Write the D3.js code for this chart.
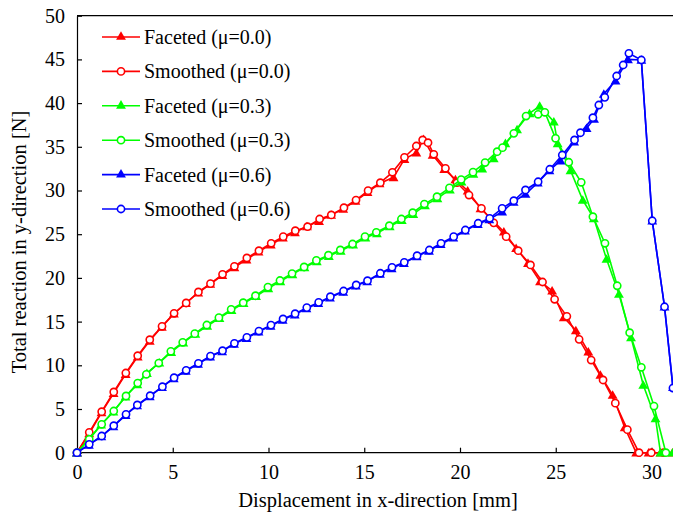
<!DOCTYPE html>
<html>
<head>
<meta charset="utf-8">
<script src="https://cdn.jsdelivr.net/npm/d3@7"></script>
<style>
  body { margin: 0; background: #fff; }
  svg { display: block; font-family: "Liberation Serif", "DejaVu Serif", serif; }
  .axis path, .axis line { stroke: #000; stroke-width: 1.2px; }
  .axis text { font-size: 20px; fill: #000; font-family: "Liberation Serif", serif; }
  .title { font-size: 20.5px; fill: #000; }
  .legend text { font-size: 20px; fill: #000; }
</style>
</head>
<body>
<svg id="chart" width="673" height="516"></svg>
<script>
// data: displacement [mm] and reaction [N]
const xTicks = [0, 5, 10, 15, 20, 25, 30];
const yTicks = [0, 5, 10, 15, 20, 25, 30, 35, 40, 45, 50];

const facetedX00 = [0, 0.64, 1.28, 1.91, 2.54, 3.17, 3.8, 4.43, 5.06, 5.69, 6.33, 6.96, 7.59, 8.22, 8.85, 9.48, 10.12, 10.75, 11.38, 12.01, 12.64, 13.27, 13.9, 14.54, 15.17, 15.8, 16.53, 17.1, 17.72, 18.1, 18.57, 19.18, 19.76, 20.4, 21.07, 21.7, 22.29, 22.93, 23.55, 24.18, 24.81, 25.42, 26.05, 26.7, 27.33, 27.97, 28.6, 29.2, 29.85, 30.47, 31.1];
const facetedY00 = [0, 2.2, 4.6, 6.8, 9.0, 11.0, 12.8, 14.4, 15.9, 17.1, 18.3, 19.3, 20.3, 21.2, 22.1, 23.0, 23.8, 24.6, 25.2, 25.9, 26.5, 27.2, 27.9, 28.8, 29.8, 30.8, 31.51, 33.6, 34.33, 35.86, 34.06, 32.43, 31.28, 29.98, 27.96, 26.6, 25.29, 23.4, 21.7, 19.6, 18.54, 15.49, 14.0, 11.56, 8.9, 6.6, 2.9, 0, 0, 0, 0];

const smoothedX00 = [0, 0.64, 1.29, 1.92, 2.55, 3.17, 3.8, 4.44, 5.07, 5.7, 6.34, 6.97, 7.6, 8.22, 8.87, 9.5, 10.14, 10.77, 11.4, 12.04, 12.67, 13.28, 13.94, 14.57, 15.2, 15.84, 16.47, 17.1, 17.72, 18.05, 18.33, 18.63, 19.24, 19.84, 20.47, 21.12, 21.76, 22.41, 23.04, 23.68, 24.31, 24.94, 25.58, 26.22, 26.85, 27.47, 28.11, 28.74, 29.35, 29.99, 30.63, 31.27];
const smoothedY00 = [0, 2.33, 4.69, 6.95, 9.12, 11.1, 12.93, 14.46, 15.95, 17.13, 18.39, 19.34, 20.41, 21.33, 22.28, 23.11, 23.96, 24.72, 25.4, 25.86, 26.74, 27.2, 28.03, 28.91, 29.98, 30.89, 32.08, 33.8, 35.09, 35.78, 35.47, 34.14, 32.54, 30.89, 29.48, 27.96, 26.3, 24.72, 23.11, 21.48, 19.53, 17.55, 15.6, 12.97, 10.6, 8.32, 5.67, 2.64, 0, 0, 0, 0];

const facetedX03 = [0, 0.62, 1.26, 1.9, 2.53, 3.15, 3.65, 4.3, 4.92, 5.55, 6.18, 6.8, 7.44, 8.07, 8.7, 9.35, 9.99, 10.62, 11.25, 11.88, 12.52, 13.15, 13.77, 14.42, 15.06, 15.66, 16.33, 16.96, 17.56, 18.17, 18.82, 19.47, 20.08, 20.7, 21.16, 21.76, 22.37, 22.98, 23.63, 24.16, 24.9, 25.1, 25.77, 26.41, 26.99, 27.65, 28.3, 28.93, 29.57, 30.21, 30.47, 31.1];
const facetedY03 = [0, 1.6, 3.2, 4.7, 6.4, 7.8, 9.1, 10.3, 11.5, 12.6, 13.6, 14.5, 15.4, 16.3, 17.1, 17.9, 18.8, 19.6, 20.4, 21.2, 21.9, 22.5, 23.1, 23.8, 24.6, 25.1, 25.9, 26.6, 27.3, 28.3, 29.1, 30.1, 31.0, 31.9, 32.5, 33.68, 35.4, 37.0, 38.83, 39.67, 37.87, 35.4, 32.3, 28.91, 26.82, 22.16, 18.16, 13.2, 7.75, 3.93, 0, 0];

const smoothedX03 = [0, 0.64, 1.29, 1.92, 2.56, 3.17, 3.62, 4.27, 4.9, 5.52, 6.15, 6.78, 7.41, 8.05, 8.68, 9.32, 9.97, 10.6, 11.23, 11.86, 12.5, 13.13, 13.75, 14.39, 15.04, 15.63, 16.31, 16.94, 17.53, 18.14, 18.8, 19.45, 20.06, 20.68, 21.31, 21.94, 22.22, 22.81, 23.45, 24.08, 24.43, 24.99, 25.68, 26.33, 26.94, 27.57, 28.21, 28.86, 29.47, 30.13, 30.75, 31.4];
const smoothedY03 = [0, 1.53, 3.25, 4.77, 6.49, 7.97, 8.97, 10.26, 11.6, 12.63, 13.62, 14.61, 15.45, 16.4, 17.16, 17.96, 18.95, 19.7, 20.5, 21.25, 22.0, 22.6, 23.2, 23.88, 24.72, 25.22, 25.97, 26.74, 27.46, 28.45, 29.29, 30.3, 31.25, 32.1, 33.2, 34.44, 34.9, 36.54, 38.52, 38.72, 38.95, 35.97, 33.23, 30.94, 27.0, 23.96, 19.1, 13.73, 9.77, 5.34, 0, 0];

const facetedX06 = [0, 0.62, 1.27, 1.9, 2.54, 3.14, 3.8, 4.44, 5.05, 5.68, 6.32, 6.95, 7.58, 8.2, 8.85, 9.48, 10.11, 10.74, 11.37, 11.98, 12.6, 13.21, 13.9, 14.56, 15.15, 15.82, 16.43, 17.07, 17.74, 18.38, 18.99, 19.65, 20.26, 20.93, 21.53, 22.2, 22.8, 23.42, 24.06, 24.67, 25.25, 25.96, 26.61, 27.0, 27.51, 28.12, 28.77, 29.47, 30.04, 30.68, 31.12, 31.7];
const facetedY06 = [0, 0.9, 1.85, 3.0, 4.3, 5.4, 6.45, 7.5, 8.5, 9.35, 10.15, 11.0, 11.6, 12.45, 13.1, 13.85, 14.5, 15.2, 15.8, 16.5, 17.1, 17.75, 18.4, 19.1, 19.6, 20.45, 21.1, 21.7, 22.45, 23.1, 23.85, 24.6, 25.4, 26.15, 26.7, 27.57, 28.7, 29.6, 30.9, 32.3, 33.41, 35.6, 37.12, 38.2, 41.04, 42.56, 45.0, 44.93, 26.54, 16.7, 7.5, 0];

const smoothedX06 = [0, 0.64, 1.29, 1.92, 2.56, 3.15, 3.82, 4.46, 5.07, 5.7, 6.34, 6.97, 7.6, 8.22, 8.87, 9.5, 10.13, 10.76, 11.39, 12.0, 12.62, 13.23, 13.92, 14.58, 15.17, 15.84, 16.45, 17.09, 17.76, 18.4, 19.01, 19.67, 20.28, 20.95, 21.55, 22.2, 22.81, 23.42, 24.08, 24.69, 25.34, 25.98, 26.29, 26.94, 27.25, 27.56, 28.18, 28.52, 28.82, 29.47, 30.04, 30.68, 31.12, 31.7];
const smoothedY06 = [0, 0.96, 1.91, 3.09, 4.39, 5.46, 6.52, 7.55, 8.58, 9.43, 10.23, 11.06, 11.67, 12.52, 13.2, 13.92, 14.6, 15.3, 15.9, 16.6, 17.2, 17.85, 18.5, 19.19, 19.68, 20.53, 21.21, 21.78, 22.54, 23.19, 23.96, 24.72, 25.48, 26.25, 26.82, 27.96, 28.83, 30.06, 31.0, 32.43, 34.06, 35.78, 36.61, 38.33, 39.78, 40.66, 43.1, 44.36, 45.7, 44.93, 26.54, 16.7, 7.4, 0];

const seriesNames = ["Faceted (\u03bc=0.0)", "Smoothed (\u03bc=0.0)", "Faceted (\u03bc=0.3)",
                     "Smoothed (\u03bc=0.3)", "Faceted (\u03bc=0.6)", "Smoothed (\u03bc=0.6)"];
const seriesColors = ["#ff0000", "#ff0000", "#00ff00", "#00ff00", "#0000ff", "#0000ff"];
const seriesMarkers = ["triangle", "circle", "triangle", "circle", "triangle", "circle"];
const seriesX = [facetedX00, smoothedX00, facetedX03, smoothedX03, facetedX06, smoothedX06];
const seriesY = [facetedY00, smoothedY00, facetedY03, smoothedY03, facetedY06, smoothedY06];

const svg = d3.select('#chart');
const W = 673, H = 516;

// the plot runs past the right edge of the picture, as in the figure
const x = d3.scaleLinear().domain([0, 35]).range([77, 77 + 35 * 19.15]);
const y = d3.scaleLinear().domain([0, 50]).range([452.7, 15.7]);

// frame: top line
svg.append('line')
  .attr('x1', x(0)).attr('x2', W + 10)
  .attr('y1', y(50)).attr('y2', y(50))
  .attr('stroke', '#000').attr('stroke-width', 1.2);

const xAxis = svg.append('g')
  .attr('class', 'axis')
  .attr('transform', `translate(0,${y(0)})`)
  .call(d3.axisBottom(x).tickValues(xTicks).tickSizeInner(-5).tickSizeOuter(0).tickPadding(12));
xAxis.select('.domain').attr('d', `M${x(0)},0H${W + 10}`);
xAxis.selectAll('text').attr('dy', '0.71em');

svg.append('g')
  .attr('class', 'axis')
  .attr('transform', `translate(${x(0)},0)`)
  .call(d3.axisLeft(y).tickValues(yTicks).tickSizeInner(-5).tickSizeOuter(0).tickPadding(12));

svg.append('text')
  .attr('class', 'title')
  .attr('x', 378).attr('y', 507)
  .attr('text-anchor', 'middle')
  .text('Displacement in x-direction [mm]');

svg.append('text')
  .attr('class', 'title')
  .attr('transform', 'translate(26,242) rotate(-90)')
  .attr('text-anchor', 'middle')
  .text('Total reaction in y-direction [N]');

const line = d3.line().x(d => x(d[0])).y(d => y(d[1]));
const tri = d3.symbol().type(d3.symbolTriangle).size(42);

function drawMarkers(g, pts, kind, color) {
  if (kind === 'circle') {
    g.selectAll('circle').data(pts).join('circle')
      .attr('cx', d => x(d[0])).attr('cy', d => y(d[1])).attr('r', 3.6)
      .attr('fill', '#fff').attr('stroke', color).attr('stroke-width', 1.6);
  } else {
    g.selectAll('path.mk').data(pts).join('path')
      .attr('class', 'mk')
      .attr('d', tri)
      .attr('transform', d => `translate(${x(d[0])},${y(d[1]) + 1})`)
      .attr('fill', color);
  }
}

const dataG = svg.append('g').attr('class', 'data');
seriesNames.forEach((name, i) => {
  const pts = seriesX[i].map((v, j) => [v, seriesY[i][j]]);
  const g = dataG.append('g');
  g.append('path')
    .attr('d', line(pts))
    .attr('fill', 'none')
    .attr('stroke', seriesColors[i])
    .attr('stroke-width', 1.6);
  drawMarkers(g, pts, seriesMarkers[i], seriesColors[i]);
});

// legend
const legend = svg.append('g').attr('class', 'legend');
seriesNames.forEach((name, i) => {
  const ly = 37 + i * 34.4;
  const g = legend.append('g');
  g.append('line')
    .attr('x1', 102).attr('x2', 140).attr('y1', ly).attr('y2', ly)
    .attr('stroke', seriesColors[i]).attr('stroke-width', 1.6);
  if (seriesMarkers[i] === 'circle') {
    g.append('circle').attr('cx', 121).attr('cy', ly).attr('r', 3.6)
      .attr('fill', '#fff').attr('stroke', seriesColors[i]).attr('stroke-width', 1.6);
  } else {
    g.append('path').attr('d', tri).attr('transform', `translate(121,${ly})`)
      .attr('fill', seriesColors[i]);
  }
  g.append('text').attr('x', 144).attr('y', ly + 7).text(name);
});
</script>
</body>
</html>
